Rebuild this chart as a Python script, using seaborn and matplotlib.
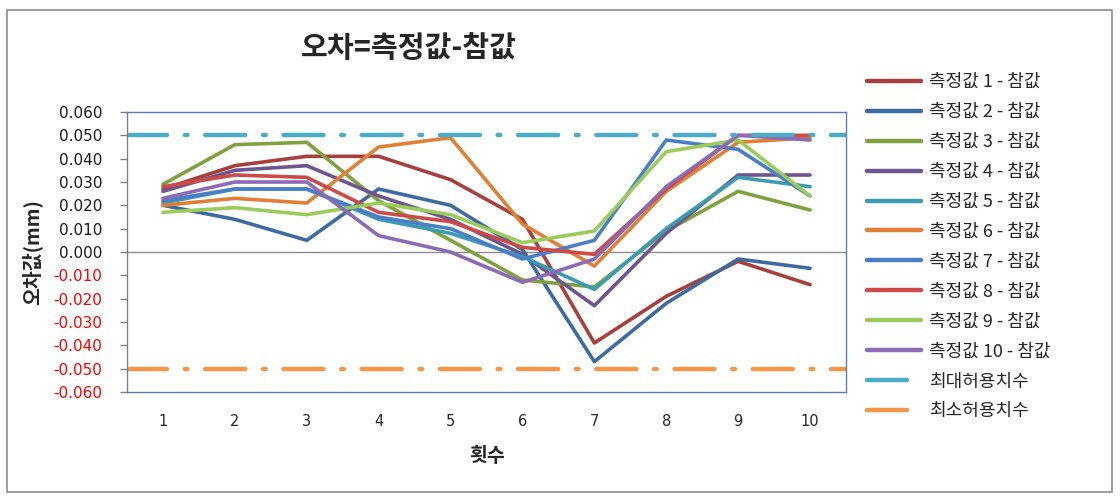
import numpy as np
import pandas as pd
import matplotlib
matplotlib.use('Agg')
import matplotlib.pyplot as plt
from matplotlib.patches import Rectangle
import seaborn as sns

# 횟수 (run number)
runs = [1, 2, 3, 4, 5, 6, 7, 8, 9, 10]

err1 = [0.027, 0.037, 0.041, 0.041, 0.031, 0.014, -0.039, -0.019, -0.004, -0.014]
err2 = [0.020, 0.014, 0.005, 0.027, 0.020, 0.001, -0.047, -0.022, -0.003, -0.007]
err3 = [0.029, 0.046, 0.047, 0.022, 0.005, -0.012, -0.015, 0.009, 0.026, 0.018]
err4 = [0.026, 0.035, 0.037, 0.024, 0.014, -0.001, -0.023, 0.008, 0.033, 0.033]
err5 = [0.021, 0.027, 0.027, 0.014, 0.008, -0.002, -0.016, 0.010, 0.032, 0.028]
err6 = [0.020, 0.023, 0.021, 0.045, 0.049, 0.012, -0.006, 0.026, 0.047, 0.049]
err7 = [0.022, 0.027, 0.027, 0.015, 0.010, -0.003, 0.005, 0.048, 0.044, 0.024]
err8 = [0.028, 0.033, 0.032, 0.017, 0.013, 0.002, -0.001, 0.027, 0.050, 0.050]
err9 = [0.017, 0.019, 0.016, 0.021, 0.016, 0.004, 0.009, 0.043, 0.048, 0.024]
err10 = [0.023, 0.030, 0.030, 0.007, 0.000, -0.013, -0.003, 0.028, 0.050, 0.048]

series_labels = [f"측정값 {i} - 참값" for i in range(1, 11)]
series_values = [err1, err2, err3, err4, err5, err6, err7, err8, err9, err10]

max_tol = 0.050   # 최대허용치수
min_tol = -0.050  # 최소허용치수

colors = ['#A5403D', '#3E6AA2', '#7FA13E', '#6E5490', '#3A9BB2',
          '#E07F35', '#4A7EC6', '#CC4A47', '#9BCB59', '#8A6BB4']

rows = []
for label, vals in zip(series_labels, series_values):
    for r, v in zip(runs, vals):
        rows.append({'횟수': r, '오차': v, 'series': label})
df = pd.DataFrame(rows)

sns.set_theme(style='white')
plt.rcParams['font.family'] = ['Noto Sans CJK KR', 'DejaVu Sans']

fig = plt.figure(figsize=(11.2, 5), dpi=100)
ax = fig.add_axes([127 / 1120, 1 - 392 / 500, 719 / 1120, 280 / 500])

# outer chart frame
fig.patches.append(Rectangle((7 / 1120, 8 / 500), 1105 / 1120, 482 / 500,
                             transform=fig.transFigure, fill=False,
                             edgecolor='#8C8C8C', linewidth=1.2))

sns.lineplot(data=df, x='횟수', y='오차', hue='series', hue_order=series_labels,
             palette=colors, linewidth=2.6, ax=ax, legend='full')

ax.axhline(0, color='#8C8C8C', linewidth=1, zorder=0.5)
ax.axhline(max_tol, color='#4BACC6', linewidth=3, dashes=(9, 4, 0.6, 4),
           dash_capstyle='round', label='최대허용치수')
ax.axhline(min_tol, color='#F79646', linewidth=3, dashes=(9, 4, 0.6, 4),
           dash_capstyle='round', label='최소허용치수')

ax.set_xlim(0.5, 10.5)
ax.set_ylim(-0.06, 0.06)

yticks = np.round(np.arange(-0.06, 0.0601, 0.01), 3)
ax.set_yticks(yticks)
ax.set_yticklabels([f"{abs(v):.3f}" if v == 0 else f"{v:.3f}" for v in yticks],
                   fontsize=11, family='DejaVu Sans')
for lbl, v in zip(ax.get_yticklabels(), yticks):
    lbl.set_color('#FF0000' if v < 0 else '#1A1A1A')
ax.set_xticks(runs)
ax.set_xticklabels([str(r) for r in runs], fontsize=10.5, family='DejaVu Sans')
ax.tick_params(axis='y', direction='out', length=5, width=1, color='#7F7F7F', pad=13, left=True)
ax.tick_params(axis='x', length=0, pad=16)

for side in ['top', 'right', 'bottom']:
    ax.spines[side].set_color('#5A7DB8')
    ax.spines[side].set_linewidth(1)
ax.spines['left'].set_color('#7F7F7F')
ax.spines['left'].set_linewidth(1)

ax.set_xlabel('횟수', fontsize=14, fontweight='bold')
ax.set_ylabel('오차값(mm)', fontsize=14, fontweight='bold')
ax.xaxis.set_label_coords(0.5, -0.195)
ax.yaxis.set_label_coords(-0.118, 0.5)

fig.text(409 / 1120, 1 - 48 / 500, '오차=측정값-참값', fontsize=21,
         fontweight='bold', ha='center', va='center')

handles, labels = ax.get_legend_handles_labels()
for h in handles:
    h.set_linewidth(3.2)
ax.legend(handles, labels, loc='upper left', bbox_to_anchor=(860 / 1120, 1 - 66 / 500),
          bbox_transform=fig.transFigure, frameon=False, fontsize=13,
          handlelength=3.0, handletextpad=0.4, labelspacing=0.66, borderaxespad=0)

fig.savefig('out.png', dpi=100, facecolor='white')
